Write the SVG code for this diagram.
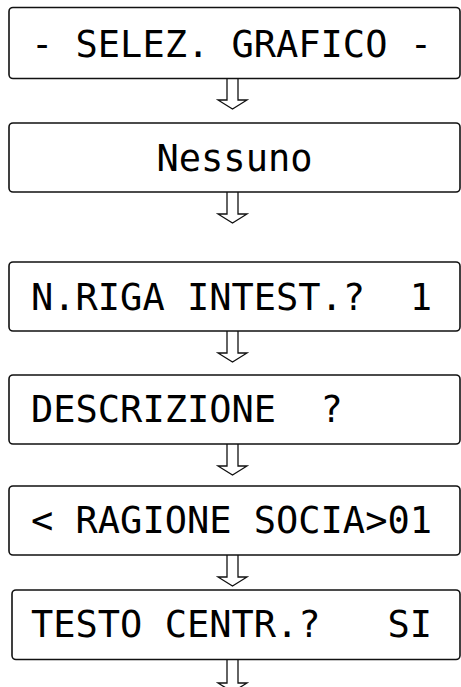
<svg xmlns="http://www.w3.org/2000/svg" width="461" height="687" viewBox="0 0 461 687">
<style>
.box{fill:#fff;stroke:#111;stroke-width:1.6}
.t{font-family:"DejaVu Sans Mono",monospace;font-size:37px;fill:#000}
.arr{fill:#fff;stroke:#111;stroke-width:1.3;stroke-linejoin:miter}
</style>
<rect width="461" height="687" fill="#fff"/>
<g id="connectors">
<path class="arr" d="M227,78 V100 H218 L232.5,109 L247,100 H238 V78"/>
<path class="arr" d="M227,192 V214 H218 L232.5,223 L247,214 H238 V192"/>
<path class="arr" d="M227,331 V353 H218 L232.5,362 L247,353 H238 V331"/>
<path class="arr" d="M227,444 V466 H218 L232.5,475 L247,466 H238 V444"/>
<path class="arr" d="M227,555 V577 H218 L232.5,586 L247,577 H238 V555"/>
<path class="arr" d="M227,659 V683 H218 L232.5,692 L247,683 H238 V659"/>
</g>
<g id="n1"><rect class="box" x="9" y="7.5" width="451" height="71" rx="4"/><text class="t" x="31" y="57" xml:space="preserve">- SELEZ. GRAFICO -</text></g>
<g id="n2"><rect class="box" x="9" y="123" width="451" height="69" rx="4"/><text class="t" x="234.5" y="171" text-anchor="middle">Nessuno</text></g>
<g id="n3"><rect class="box" x="9" y="262" width="451" height="69" rx="4"/><text class="t" x="31" y="310" xml:space="preserve">N.RIGA INTEST.?  1</text></g>
<g id="n4"><rect class="box" x="9" y="375" width="451" height="69" rx="4"/><text class="t" x="31" y="422" xml:space="preserve">DESCRIZIONE  ?</text></g>
<g id="n5"><rect class="box" x="9" y="486" width="451" height="69" rx="4"/><text class="t" x="31" y="533" xml:space="preserve">&lt; RAGIONE SOCIA&gt;01</text></g>
<g id="n6"><rect class="box" x="12" y="590" width="448" height="69.5" rx="4"/><text class="t" x="31" y="637" xml:space="preserve">TESTO CENTR.?   SI</text></g>
</svg>
